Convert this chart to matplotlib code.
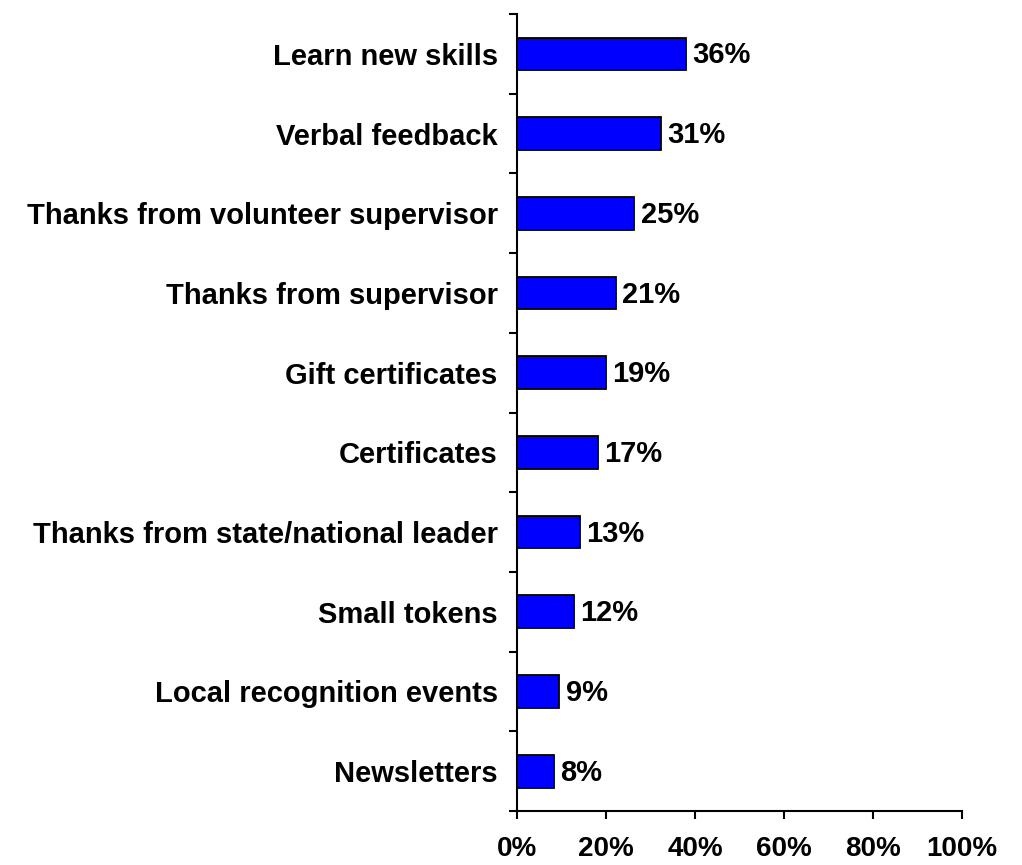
"""
Horizontal bar chart of preferred volunteer recognition types.
"""

import numpy as np
import matplotlib.pyplot as plt

categories = ['Learn new skills', 'Verbal feedback',
              'Thanks from volunteer supervisor', 'Thanks from supervisor',
              'Gift certificates', 'Certificates',
              'Thanks from state/national leader', 'Small tokens',
              'Local recognition events', 'Newsletters']
# bar lengths as drawn in the picture (percent of the 0-100 axis)
bar_lengths = [37.9, 32.4, 26.4, 22.2, 20.0, 18.2, 14.1, 12.7, 9.5, 8.3]
# percentages printed at the bar ends
value_labels = ['36%', '31%', '25%', '21%', '19%', '17%', '13%', '12%', '9%', '8%']
xticks = [0, 20, 40, 60, 80, 100]


def main():
    plt.rcParams['font.family'] = ['Liberation Sans', 'DejaVu Sans']
    plt.rcParams['font.weight'] = 'bold'

    fig = plt.figure(figsize=(10.22, 8.65), dpi=100)
    ax = fig.add_axes([0.506, 0.0624, 0.435, 0.9214])

    y = np.arange(len(categories))
    ax.barh(y, bar_lengths, height=0.41, color='#0000FF',
            edgecolor='black', linewidth=1.3)

    for yi, length, text in zip(y, bar_lengths, value_labels):
        ax.text(length + 1.4, yi + 0.02, text, va='center', ha='left',
                fontsize=21, fontweight='bold')

    ax.set_xlim(0, 100)
    ax.set_ylim(len(categories) - 0.5, -0.5)

    ax.set_xticks(xticks)
    ax.set_xticklabels([f'{t}%' for t in xticks], fontsize=20, fontweight='bold')

    # ticks between categories, labels at the bar centres
    ax.set_yticks(np.arange(len(categories) + 1) - 0.5)
    ax.set_yticklabels([])
    ax.set_yticks(y, minor=True)
    ax.set_yticklabels(categories, minor=True, fontsize=21, fontweight='bold')
    ax.tick_params(axis='y', which='minor', length=0, pad=14)
    ax.tick_params(axis='y', which='major', length=6, width=1.5, direction='out')
    ax.tick_params(axis='x', length=6, width=1.5, direction='out', pad=12)

    for side in ('top', 'right'):
        ax.spines[side].set_visible(False)
    for side in ('left', 'bottom'):
        ax.spines[side].set_linewidth(1.5)

    fig.savefig('out.png', dpi=100)


if __name__ == "__main__":
    main()
